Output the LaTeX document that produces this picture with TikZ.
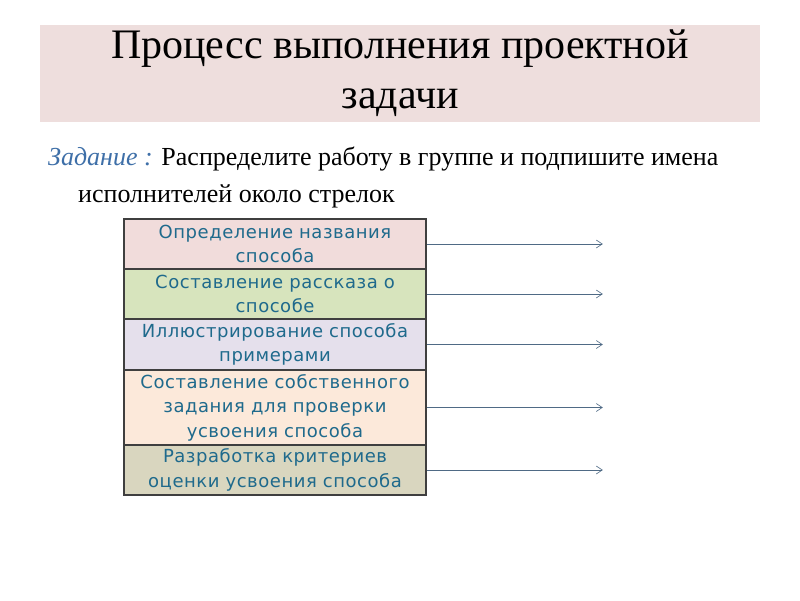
\documentclass[tikz,border=0pt]{standalone}
\usepackage{fontspec}
\setmainfont{Liberation Serif}
\newfontfamily\boxfont{DejaVu Sans}[LetterSpace=3]
\usetikzlibrary{arrows.meta}
\definecolor{titlebg}{HTML}{EEDEDD}
\definecolor{bordc}{HTML}{3F3F3F}
\definecolor{boxtxt}{HTML}{1F6A8C}
\definecolor{arrc}{HTML}{4F6A85}
\definecolor{fa}{HTML}{F1DCDB}
\definecolor{fb}{HTML}{D7E4BD}
\definecolor{fc}{HTML}{E5E0EC}
\definecolor{fd}{HTML}{FCE9DA}
\definecolor{fe}{HTML}{D9D6BF}
\definecolor{zad}{HTML}{3E6FA8}
\begin{document}
\begin{tikzpicture}[x=1pt,y=-1pt,
  rowbox/.style={draw=bordc,line width=1.6pt,minimum width=302pt,inner sep=0pt,
    text width=300pt,align=center,font=\boxfont\fontsize{18}{24.5}\selectfont,text=boxtxt},
  arr/.style={draw=arrc,line width=0.6pt,-{Straight Barb[length=6pt,width=8pt]}}]
\useasboundingbox (0,0) rectangle (800,600);
\fill[white] (0,0) rectangle (800,600);
\node[fill=titlebg,minimum width=720pt,minimum height=97pt,inner sep=0pt,
  align=center,font=\fontsize{42}{50}\selectfont] (title) at (400,73.5)
  {Процесс выполнения проектной\\задачи};
\node[anchor=north west,inner sep=0pt,align=left,font=\fontsize{26}{37}\selectfont] (task) at (48,147)
  {{\color{zad}\itshape Задание :} Распределите работу в группе и подпишите имена\\\hspace*{30pt}исполнителей около стрелок};
\node[rowbox,fill=fa,minimum height=50pt] (b1) at (275,244) {Определение названия\\способа};
\node[rowbox,fill=fb,minimum height=50pt] (b2) at (275,294) {Составление рассказа о\\способе};
\node[rowbox,fill=fc,minimum height=51pt] (b3) at (275,344.5) {Иллюстрирование способа\\примерами};
\node[rowbox,fill=fd,minimum height=75pt] (b4) at (275,407.5) {Составление собственного\\задания для проверки\\усвоения способа};
\node[rowbox,fill=fe,minimum height=50pt] (b5) at (275,470) {Разработка критериев\\оценки усвоения способа};
\foreach \b in {b1,b2,b3,b4,b5}{
  \coordinate (\b e) at ([xshift=176pt]\b.east);
  \draw[arr] (\b.east) -- (\b e);
}
\end{tikzpicture}
\end{document}
